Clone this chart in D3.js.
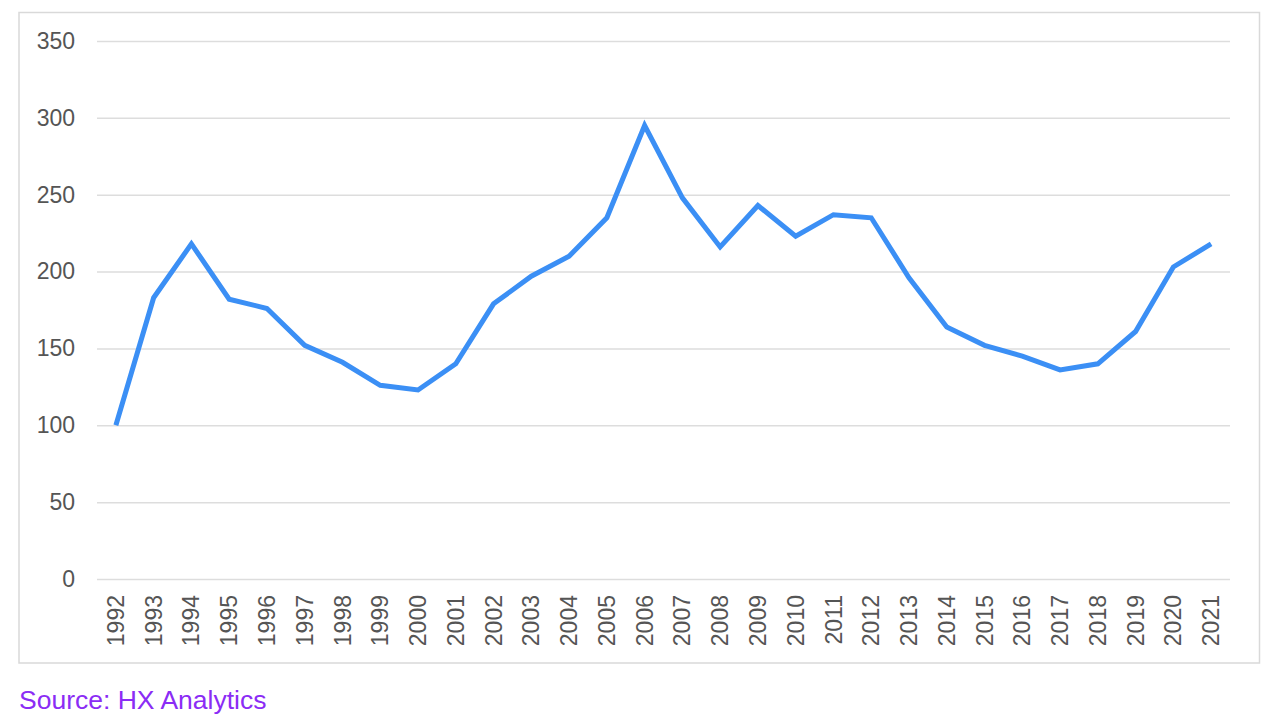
<!DOCTYPE html>
<html><head><meta charset="utf-8">
<script src="https://cdn.jsdelivr.net/npm/d3@7"></script>
<style>body{margin:0;background:#fff;}svg{display:block;font-family:"Liberation Sans",Arial,Helvetica,sans-serif;}</style>
</head><body><svg id="c" width="1280" height="722"></svg>
<script>
const years = ["1992","1993","1994","1995","1996","1997","1998","1999","2000","2001","2002","2003","2004","2005","2006","2007","2008","2009","2010","2011","2012","2013","2014","2015","2016","2017","2018","2019","2020","2021"];
const values = [100,183,218,182,176,152,141,126,123,140,179,197,210,235,295,248,216,243,223,237,235,196,164,152,145,136,140,161,203,218];
const yTicks = [0,50,100,150,200,250,300,350];
const sourceText = "Source: HX Analytics";

const svg = d3.select("#c");
svg.append("rect").attr("x",19).attr("y",12.5).attr("width",1240.5).attr("height",650.5)
  .attr("fill","none").attr("stroke","#d9d9d9").attr("stroke-width",1.5);

const x = d3.scaleBand().domain(years).range([97,1230]);
const y = d3.scaleLinear().domain([0,350]).range([579,41]);

const gy = svg.append("g").attr("transform","translate(97,0)")
  .call(d3.axisLeft(y).tickValues(yTicks).tickSize(-1133).tickPadding(22));
gy.select(".domain").remove();
gy.selectAll(".tick line").attr("stroke","#dddddd").attr("stroke-width",1.5);
gy.selectAll(".tick text").attr("fill","#555").style("font-size","23px");

const gx = svg.append("g").attr("transform","translate(0,579)")
  .call(d3.axisBottom(x).tickSize(0).tickPadding(0));
gx.select(".domain").remove();
gx.selectAll(".tick text").attr("fill","#555").style("font-size","23px")
  .attr("transform","rotate(-90)").attr("text-anchor","end")
  .attr("x",-16).attr("y",0).attr("dy","0.35em");

const line = d3.line().x((d,i)=>x(years[i])+x.bandwidth()/2).y(d=>y(d));
svg.append("path").datum(values).attr("d",line).attr("fill","none")
  .attr("stroke","#3b8ff5").attr("stroke-width",5).attr("stroke-linejoin","miter");

svg.append("text").attr("x",19).attr("y",709).attr("fill","#8b2cf5")
  .style("font-size","26.5px").text(sourceText);
</script></body></html>
